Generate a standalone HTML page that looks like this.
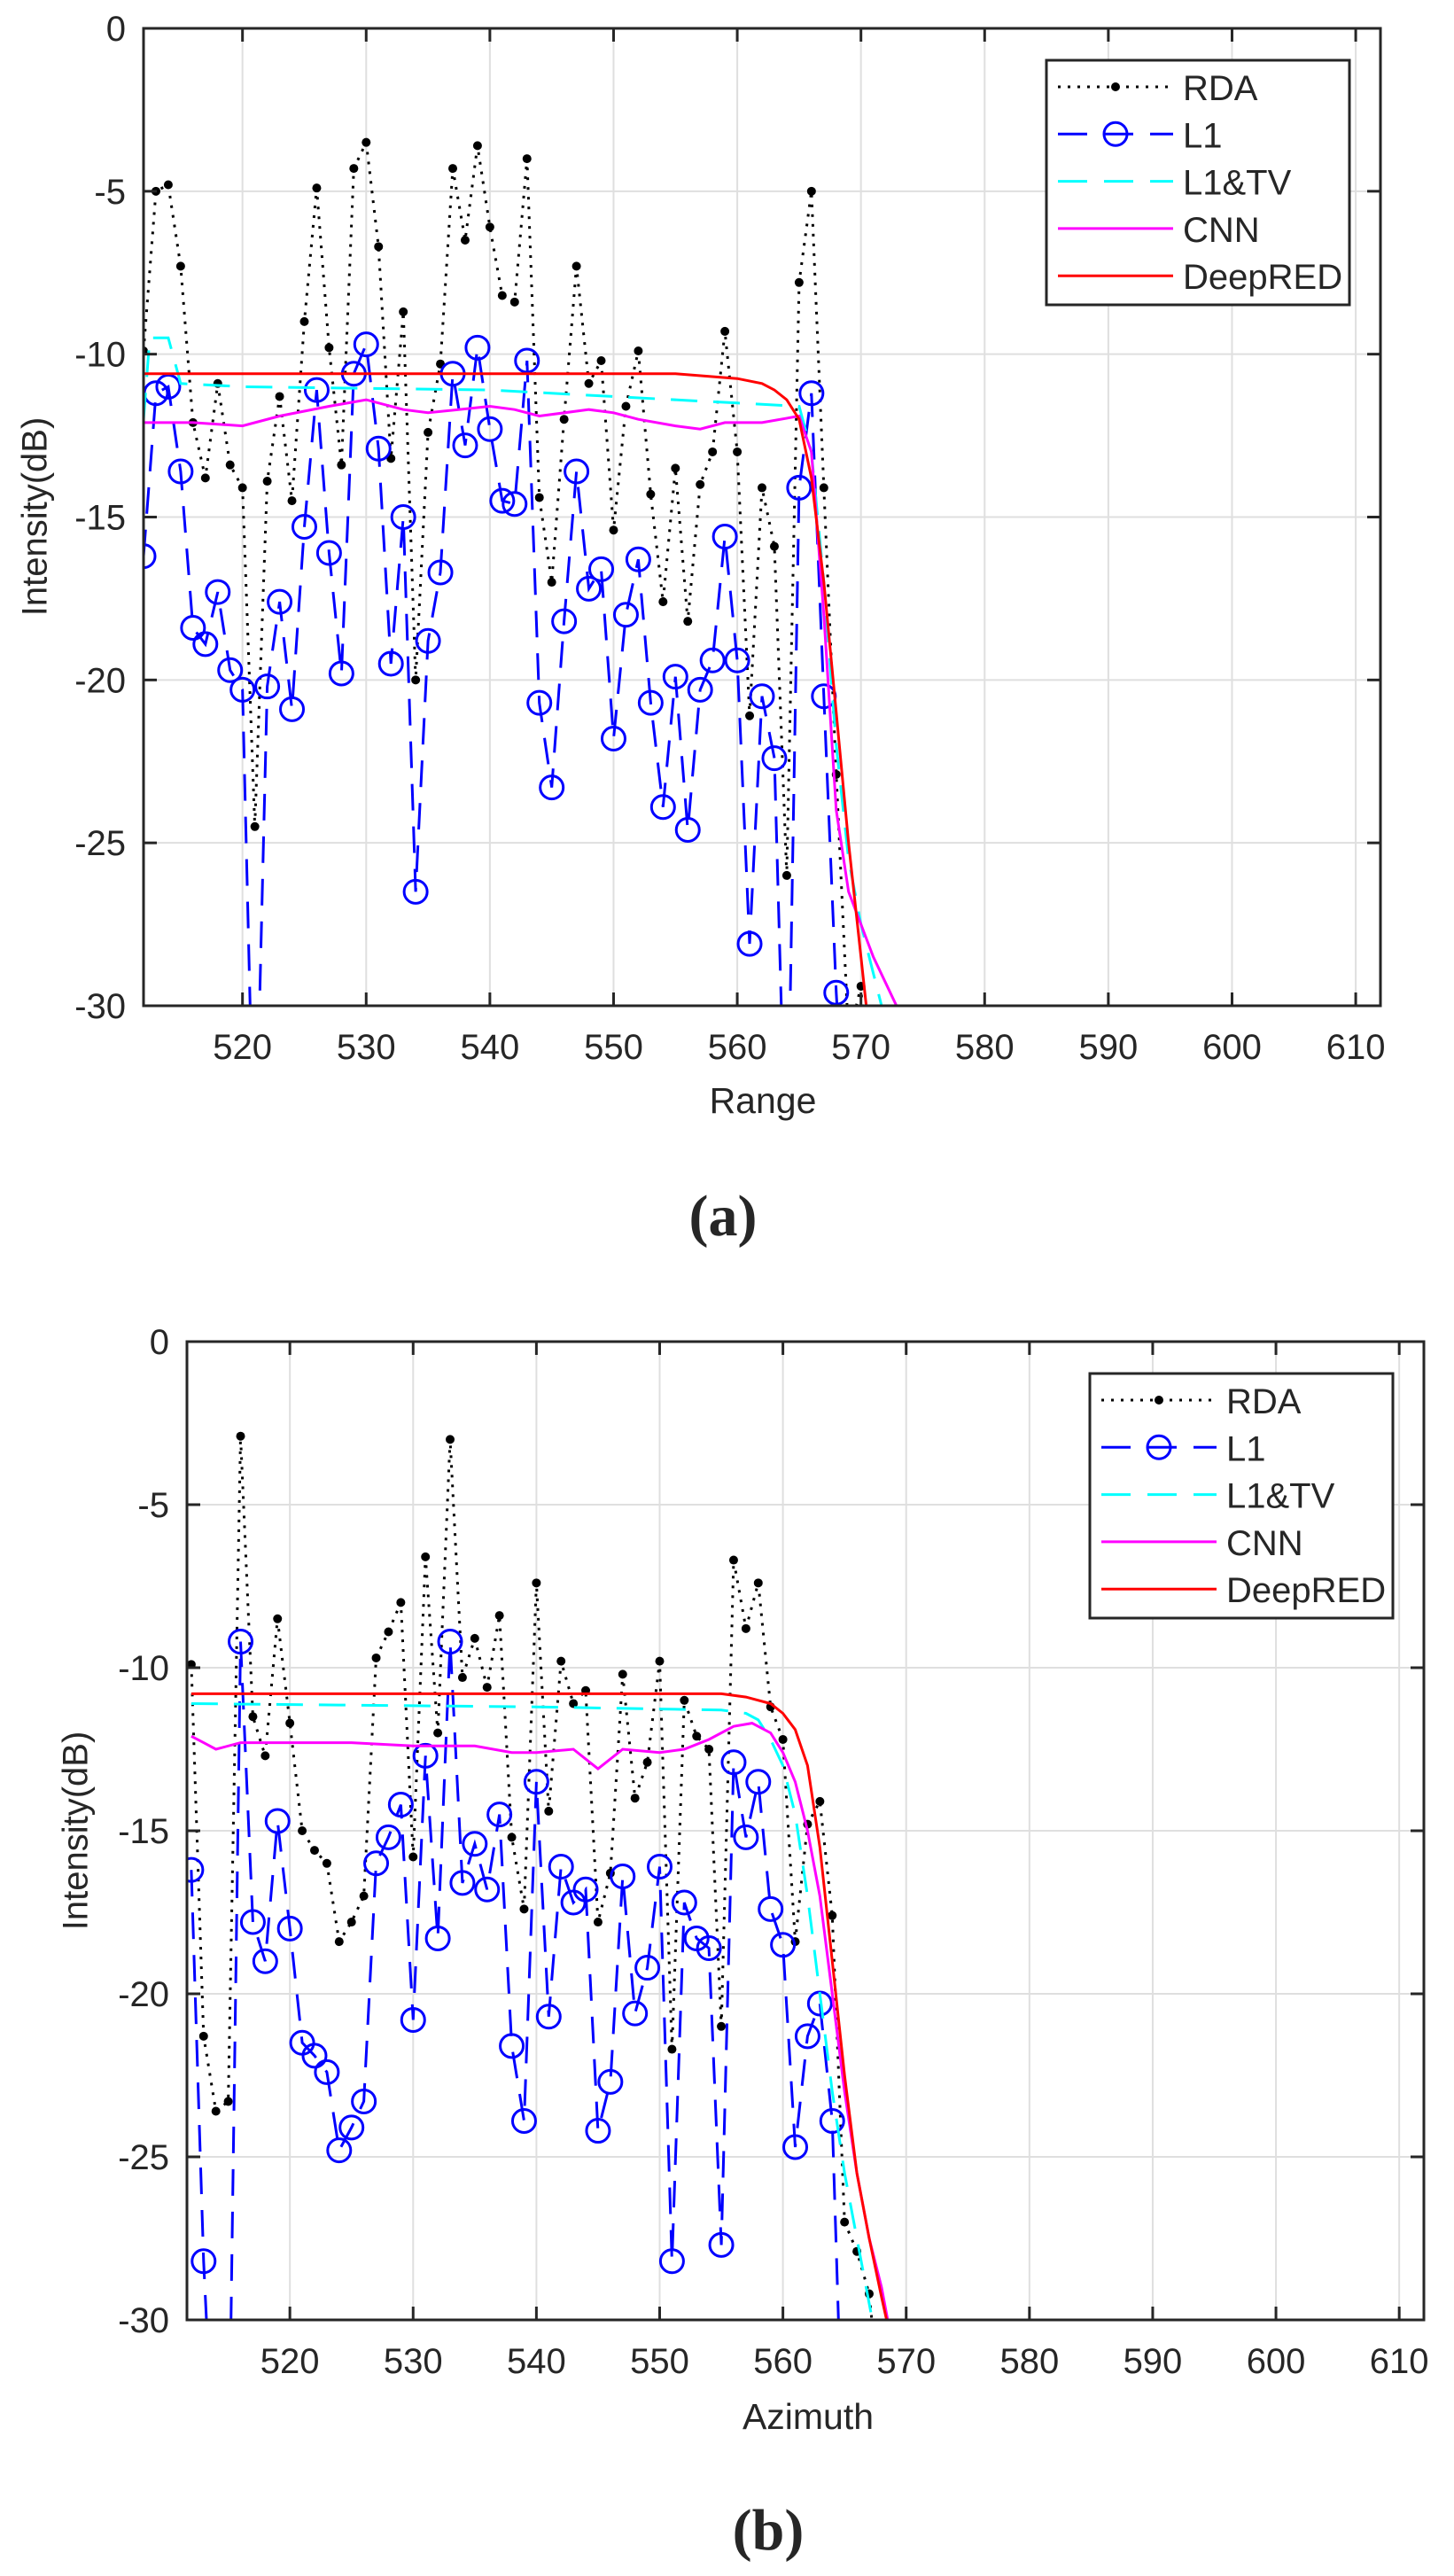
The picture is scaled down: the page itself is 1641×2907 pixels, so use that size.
<!DOCTYPE html>
<html><head><meta charset="utf-8"><style>
html,body{margin:0;padding:0;background:#fff;}
svg{display:block;}
text{font-family:"Liberation Sans",sans-serif;fill:#262626;}
</style></head><body>
<svg id="s" width="1641" height="2907" xmlns="http://www.w3.org/2000/svg">
<defs>
<clipPath id="ca"><rect x="162" y="32" width="1396" height="1103"/></clipPath>
<clipPath id="cb"><rect x="211" y="1514" width="1396" height="1104"/></clipPath>
</defs>
<g id="ga"></g><g id="gb"></g>
<text x="42" y="583" font-size="40" text-anchor="middle" transform="rotate(-90 42 583)" dominant-baseline="middle">Intensity(dB)</text>
<text x="861" y="1256" font-size="41" text-anchor="middle">Range</text>
<text x="816" y="1394" font-size="66" font-weight="bold" text-anchor="middle" style="font-family:'Liberation Serif',serif" fill="#000">(a)</text>
<text x="88" y="2066" font-size="40" text-anchor="middle" transform="rotate(-90 88 2066)" dominant-baseline="middle">Intensity(dB)</text>
<text x="912" y="2741" font-size="41" text-anchor="middle">Azimuth</text>
<text x="867" y="2877" font-size="66" font-weight="bold" text-anchor="middle" style="font-family:'Liberation Serif',serif" fill="#000">(b)</text>
</svg>
<script>
var NS="http://www.w3.org/2000/svg";
function el(p,t,a){var e=document.createElementNS(NS,t);for(var k in a)e.setAttribute(k,a[k]);p.appendChild(e);return e;}
function seq(start,arr){return arr.map(function(v,i){return [start+i,v];});}
var A={L:162,T:32,R:1558,B:1135,x0:512,x1:612,id:'ga',clip:'ca',
rda:seq(512,[-9.9,-5,-4.8,-7.3,-12.1,-13.8,-10.9,-13.4,-14.1,-24.5,-13.9,-11.3,-14.5,-9,-4.9,-9.8,-13.4,-4.3,-3.5,-6.7,-13.2,-8.7,-20,-12.4,-10.3,-4.3,-6.5,-3.6,-6.1,-8.2,-8.4,-4,-14.4,-17,-12,-7.3,-10.9,-10.2,-15.4,-11.6,-9.9,-14.3,-17.6,-13.5,-18.2,-14,-13,-9.3,-13,-21.1,-14.1,-15.9,-26,-7.8,-5,-14.1,-22.9,-31,-29.4,-36]),
l1:seq(512,[-16.2,-11.2,-11,-13.6,-18.4,-18.9,-17.3,-19.7,-20.3,-36,-20.2,-17.6,-20.9,-15.3,-11.1,-16.1,-19.8,-10.6,-9.7,-12.9,-19.5,-15,-26.5,-18.8,-16.7,-10.6,-12.8,-9.8,-12.3,-14.5,-14.6,-10.2,-20.7,-23.3,-18.2,-13.6,-17.2,-16.6,-21.8,-18,-16.3,-20.7,-23.9,-19.9,-24.6,-20.3,-19.4,-15.6,-19.4,-28.1,-20.5,-22.4,-36,-14.1,-11.2,-20.5,-29.6,-36]),
tv:[[512,-12],[512.5,-9.5],[514,-9.5],[515,-10.9],[520,-11],[540,-11.1],[550,-11.3],[560,-11.5],[565,-11.6],[566,-13],[567,-17],[568,-22],[569,-25.5],[570,-27.5],[571,-29],[572,-30.5]],
cnn:[[512,-12.1],[516,-12.1],[520,-12.2],[523,-11.9],[527,-11.6],[530,-11.4],[533,-11.7],[535,-11.8],[540,-11.6],[542,-11.7],[544,-11.9],[548,-11.7],[550,-11.8],[552,-12],[555,-12.2],[557,-12.3],[559,-12.1],[562,-12.1],[565,-11.9],[566,-13],[567,-18],[568,-24],[569,-26.5],[570,-27.5],[571,-28.5],[572,-29.3],[573.5,-30.5]],
red:[[512,-10.6],[555,-10.6],[560,-10.75],[562,-10.9],[563,-11.1],[564,-11.4],[565,-12],[566,-13.8],[567,-17],[568,-21],[569,-25],[570,-28.5],[571,-32]]};
var B={L:211,T:1514,R:1607,B:2618,x0:511.65,x1:612,id:'gb',clip:'cb',
rda:seq(512,[-9.9,-21.3,-23.6,-23.3,-2.9,-11.5,-12.7,-8.5,-11.7,-15,-15.6,-16,-18.4,-17.8,-17,-9.7,-8.9,-8,-15.8,-6.6,-12,-3,-10.3,-9.1,-10.6,-8.4,-15.2,-17.4,-7.4,-14.4,-9.8,-11.1,-10.7,-17.8,-16.3,-10.2,-14,-12.9,-9.8,-21.7,-11,-12.1,-12.5,-21,-6.7,-8.8,-7.4,-11.2,-12.2,-18.4,-14.8,-14.1,-17.6,-27,-27.9,-29.2,-33]),
l1:seq(512,[-16.2,-28.2,-36,-36,-9.2,-17.8,-19,-14.7,-18,-21.5,-21.9,-22.4,-24.8,-24.1,-23.3,-16,-15.2,-14.2,-20.8,-12.7,-18.3,-9.2,-16.6,-15.4,-16.8,-14.5,-21.6,-23.9,-13.5,-20.7,-16.1,-17.2,-16.8,-24.2,-22.7,-16.4,-20.6,-19.2,-16.1,-28.2,-17.2,-18.3,-18.6,-27.7,-12.9,-15.2,-13.5,-17.4,-18.5,-24.7,-21.3,-20.3,-23.9,-36]),
tv:[[512,-11.1],[540,-11.2],[555,-11.3],[557,-11.4],[558,-11.6],[559,-12.2],[560,-13],[561,-14.5],[562,-17],[563,-20],[564,-23],[565,-25.5],[566,-27.5],[567,-29.5],[567.5,-30.5]],
cnn:[[512,-12.1],[513,-12.3],[514,-12.5],[516,-12.3],[520,-12.3],[525,-12.3],[530,-12.4],[535,-12.4],[538,-12.6],[540,-12.6],[543,-12.5],[545,-13.1],[547,-12.5],[550,-12.6],[552,-12.5],[554,-12.2],[556,-11.8],[557.5,-11.7],[559,-12],[560,-12.6],[561,-13.5],[562,-15],[563,-17],[564,-20],[565,-23],[566,-25.5],[567,-27.5],[568,-29],[569,-31]],
red:[[512,-10.8],[555,-10.8],[557,-10.9],[559,-11.1],[560,-11.4],[561,-11.9],[562,-13],[563,-15.5],[564,-19],[565,-22.5],[566,-25.5],[567,-27.5],[568,-29.3],[569,-31]]};
function draw(P){
 var g=document.getElementById(P.id);
 function X(x){return P.L+(x-P.x0)/(P.x1-P.x0)*(P.R-P.L);}
 function Y(y){return P.T+(-y)/30*(P.B-P.T);}
 for(var t=520;t<=610;t+=10){var x=X(t);el(g,'line',{x1:x,x2:x,y1:P.T,y2:P.B,stroke:'#dfdfdf','stroke-width':2});
  var tx=el(g,'text',{x:x,y:P.B+60,'font-size':40,'text-anchor':'middle'});tx.textContent=t;}
 for(var v=0;v>=-30;v-=5){var y=Y(v);el(g,'line',{x1:P.L,x2:P.R,y1:y,y2:y,stroke:'#dfdfdf','stroke-width':2});
  var ty=el(g,'text',{x:P.L-20,y:y+14,'font-size':40,'text-anchor':'end'});ty.textContent=v;}
 var c=el(g,'g',{'clip-path':'url(#'+P.clip+')'});
 function pl(d,a){a.points=d.map(function(p){return X(p[0]).toFixed(1)+','+Y(p[1]).toFixed(1);}).join(' ');a.fill='none';return el(c,'polyline',a);}
 pl(P.rda,{stroke:'#000','stroke-width':3,'stroke-dasharray':'3,8'});
 P.rda.forEach(function(p){el(c,'circle',{cx:X(p[0]),cy:Y(p[1]),r:5,fill:'#000'});});
 pl(P.l1,{stroke:'#0000ff','stroke-width':3,'stroke-dasharray':'30,18'});
 P.l1.forEach(function(p){el(c,'circle',{cx:X(p[0]),cy:Y(p[1]),r:13,fill:'none',stroke:'#0000ff','stroke-width':3});});
 pl(P.tv,{stroke:'#00ffff','stroke-width':3,'stroke-dasharray':'30,18'});
 pl(P.cnn,{stroke:'#ff00ff','stroke-width':3});
 pl(P.red,{stroke:'#ff0000','stroke-width':3});
 for(var t=520;t<=610;t+=10){var x=X(t);el(g,'line',{x1:x,x2:x,y1:P.B,y2:P.B-15,stroke:'#262626','stroke-width':3});el(g,'line',{x1:x,x2:x,y1:P.T,y2:P.T+15,stroke:'#262626','stroke-width':3});}
 for(var v=0;v>=-30;v-=5){var y=Y(v);el(g,'line',{x1:P.L,x2:P.L+15,y1:y,y2:y,stroke:'#262626','stroke-width':3});el(g,'line',{x1:P.R,x2:P.R-15,y1:y,y2:y,stroke:'#262626','stroke-width':3});}
 el(g,'rect',{x:P.L,y:P.T,width:P.R-P.L,height:P.B-P.T,fill:'none',stroke:'#262626','stroke-width':3});
 var lx=P.R-377,ly=P.T+36;
 el(g,'rect',{x:lx,y:ly,width:342,height:276,fill:'#fff',stroke:'#262626','stroke-width':3});
 var names=['RDA','L1','L1&TV','CNN','DeepRED'];
 for(var i=0;i<5;i++){var yy=ly+30+i*53.3,x1=lx+13,x2=lx+143,xm=lx+78;
  if(i==0){el(g,'line',{x1:x1,x2:x2,y1:yy,y2:yy,stroke:'#000','stroke-width':3,'stroke-dasharray':'3,8'});el(g,'circle',{cx:xm,cy:yy,r:5,fill:'#000'});}
  if(i==1){el(g,'line',{x1:x1,x2:x2,y1:yy,y2:yy,stroke:'#00f','stroke-width':3,'stroke-dasharray':'33,19'});el(g,'circle',{cx:xm,cy:yy,r:13,fill:'none',stroke:'#00f','stroke-width':3});}
  if(i==2){el(g,'line',{x1:x1,x2:x2,y1:yy,y2:yy,stroke:'#0ff','stroke-width':3,'stroke-dasharray':'33,19'});}
  if(i==3){el(g,'line',{x1:x1,x2:x2,y1:yy,y2:yy,stroke:'#f0f','stroke-width':3});}
  if(i==4){el(g,'line',{x1:x1,x2:x2,y1:yy,y2:yy,stroke:'#f00','stroke-width':3});}
  var tt=el(g,'text',{x:lx+154,y:yy+15,'font-size':40,fill:'#000'});tt.textContent=names[i];}
}
draw(A);draw(B);
</script>
</body></html>
